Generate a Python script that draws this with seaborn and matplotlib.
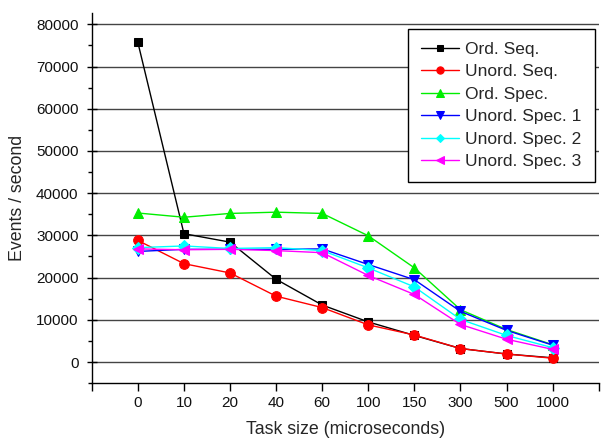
import matplotlib
matplotlib.use("Agg")
import matplotlib.pyplot as plt
from matplotlib.ticker import MultipleLocator, FixedLocator
import seaborn as sns
import pandas as pd

task_sizes = ["0", "10", "20", "40", "60", "100", "150", "300", "500", "1000"]
series_names = ["Ord. Seq.", "Unord. Seq.", "Ord. Spec.",
                "Unord. Spec. 1", "Unord. Spec. 2", "Unord. Spec. 3"]
ord_seq = [75700, 30400, 28400, 19600, 13500, 9500, 6300, 3200, 1900, 1000]
unord_seq = [28800, 23300, 21100, 15600, 12900, 8800, 6400, 3200, 1900, 900]
ord_spec = [35300, 34300, 35200, 35500, 35200, 29900, 22300, 12400, 7700, 4100]
unord_spec1 = [26200, 26700, 26700, 26700, 26800, 23100, 19500, 12000, 7500, 4000]
unord_spec2 = [27100, 27500, 26900, 27100, 26400, 22300, 17800, 10100, 6300, 3400]
unord_spec3 = [26800, 26600, 26700, 26400, 25900, 20500, 16000, 8900, 5400, 3000]

all_values = [ord_seq, unord_seq, ord_spec, unord_spec1, unord_spec2, unord_spec3]
colors = ["#000000", "#ff0000", "#00ee00", "#0000ff", "#00ffff", "#ff00ff"]
markers = ["s", "o", "^", "v", "D", "<"]
msizes = [6, 7, 7.5, 7.5, 6, 7.5]

rows = []
for name, vals in zip(series_names, all_values):
    for i, (ts, v) in enumerate(zip(task_sizes, vals)):
        rows.append({"pos": i, "task": ts, "series": name, "value": v})
df = pd.DataFrame(rows)

sns.set_theme(style="white")
plt.rcParams["font.family"] = ["Liberation Sans", "DejaVu Sans"]

fig = plt.figure(figsize=(6.16, 4.45), dpi=100)
ax = fig.add_axes([0.149, 0.139, 0.823, 0.832])

for name, c, m, ms in zip(series_names, colors, markers, msizes):
    sub = df[df["series"] == name]
    sns.lineplot(data=sub, x="pos", y="value", ax=ax, color=c, marker=m,
                 markersize=ms, markeredgecolor=c, linewidth=1.0,
                 label=name, zorder=3)

ax.set_xlim(-1, 10)
ax.set_ylim(-5000, 82700)
ax.xaxis.set_major_locator(FixedLocator(list(range(-1, 11))))
ax.set_xticklabels([""] + task_sizes + [""])
ax.yaxis.set_minor_locator(MultipleLocator(5000))
yt = list(range(0, 80001, 10000))
ax.set_yticks(yt)
ax.set_yticklabels([str(v) for v in yt])

ax.grid(axis="y", color="#444444", linewidth=1.0, zorder=0)
ax.grid(axis="x", visible=False)
for side in ["top", "right"]:
    ax.spines[side].set_visible(False)
for side in ["left", "bottom"]:
    ax.spines[side].set_color("black")
    ax.spines[side].set_linewidth(1.0)

ax.tick_params(axis="y", which="major", direction="inout", length=7,
               width=1.0, color="black", labelsize=11, labelcolor="#111111",
               left=True, pad=6)
ax.tick_params(axis="x", which="major", direction="out", length=6,
               width=1.0, color="black", labelsize=11, labelcolor="#111111",
               bottom=True, pad=3)
ax.tick_params(axis="y", which="minor", direction="out", length=3,
               width=1.0, color="black", left=True)

ax.set_xlabel("Task size (microseconds)", fontsize=12.8, labelpad=8)
ax.set_ylabel("Events / second", fontsize=12.8, labelpad=7)

leg = ax.legend(loc="upper right", bbox_to_anchor=(0.992, 0.957), borderaxespad=0,
                fontsize=12.5, frameon=True, fancybox=False, framealpha=1.0,
                edgecolor="black", handlelength=2.2, handletextpad=0.35,
                borderpad=0.75, labelspacing=0.42, markerscale=0.75)
leg.get_frame().set_linewidth(1.0)

fig.savefig("out.png", dpi=100)
